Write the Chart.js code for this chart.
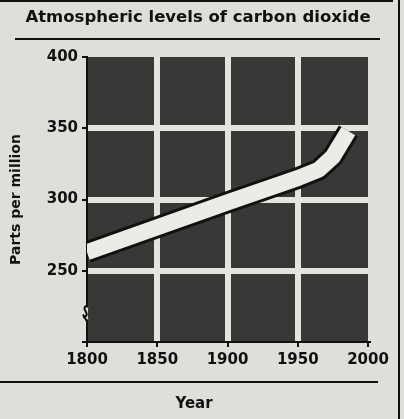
<!DOCTYPE html>
<html>
<head>
<meta charset="utf-8">
<script src="https://cdn.jsdelivr.net/npm/chart.js@4/dist/chart.umd.min.js"></script>
<style>
  html, body { margin: 0; padding: 0; background: #dfdeda; }
  #wrap { width: 404px; height: 419px; position: relative; }
</style>
</head>
<body>
<div id="wrap"><canvas id="c" width="404" height="419"></canvas></div>
<script>
// ---- data ----
const chartTitle = 'Atmospheric levels of carbon dioxide';
const xTitle = 'Year';
const yTitle = 'Parts per million';
const years = [1800, 1900, 1950, 1965, 1975, 1986];
const ppm   = [263, 298, 315, 321, 330, 348];
const xTicks = [1800, 1850, 1900, 1950, 2000];
const yTicks = [250, 300, 350, 400];
const xMin = 1800, xMax = 2000, yMin = 200, yMax = 400;
const breakValue = 220;

const PAPER = '#dfdeda';
const PLOT = '#383837';
const GRID = '#e4e3de';
const INK = '#111111';
const FONT = '"DejaVu Sans", sans-serif';

const points = years.map((y, i) => ({ x: y, y: ppm[i] }));

const decor = {
  id: 'decor',
  beforeDraw(chart) {
    const { ctx, chartArea: a } = chart;
    ctx.save();
    ctx.fillStyle = PAPER;
    ctx.fillRect(0, 0, chart.width, chart.height);
    ctx.fillStyle = PLOT;
    ctx.fillRect(a.left, a.top, a.right - a.left, a.bottom - a.top);
    ctx.restore();
  },
  afterDraw(chart) {
    const { ctx, chartArea: a } = chart;
    ctx.save();
    ctx.strokeStyle = INK;
    ctx.lineWidth = 2;
    const line = (x1, y1, x2, y2) => { ctx.beginPath(); ctx.moveTo(x1, y1); ctx.lineTo(x2, y2); ctx.stroke(); };
    line(0, 1, 393, 1);
    line(15, 39, 380, 39);
    line(0, 382, 378, 382);
    line(399, 0, 399, 419);
    ctx.fillStyle = INK;
    ctx.textAlign = 'center';
    ctx.textBaseline = 'middle';
    // chart title
    ctx.font = 'bold 16.5px ' + FONT;
    ctx.fillText(chartTitle, 198, 18);
    // x-axis title (offset left of the plot centre as in the reference)
    ctx.font = 'bold 15px ' + FONT;
    ctx.fillText(xTitle, 194, 404);
    // axis break squiggle
    const y = chart.scales.y.getPixelForValue(breakValue);
    const x = a.left;
    ctx.fillStyle = PAPER;
    ctx.fillRect(x - 2, y - 6, 4, 12);
    ctx.fillStyle = PLOT;
    ctx.fillRect(x + 1, y - 6, 3, 12);
    ctx.beginPath();
    ctx.moveTo(x, y - 8);
    ctx.bezierCurveTo(x - 8, y - 5, x + 6, y + 1, x - 4, y + 4);
    ctx.moveTo(x - 4, y + 1);
    ctx.lineTo(x, y + 8);
    ctx.lineWidth = 2;
    ctx.stroke();
    ctx.restore();
  }
};

new Chart(document.getElementById('c'), {
  type: 'line',
  data: {
    datasets: [
      { data: points, borderColor: INK, borderWidth: 22, pointRadius: 0, tension: 0,
        borderCapStyle: 'butt', borderJoinStyle: 'round', clip: 0, order: 2 },
      { data: points, borderColor: '#ecebe6', borderWidth: 16, pointRadius: 0, tension: 0,
        borderCapStyle: 'butt', borderJoinStyle: 'round', clip: 0, order: 1 }
    ]
  },
  options: {
    responsive: false,
    animation: false,
    events: [],
    layout: { padding: { left: 4, right: 36, top: 57, bottom: 0 } },
    plugins: {
      legend: { display: false },
      tooltip: { enabled: false },
      title: { display: false }
    },
    scales: {
      x: {
        type: 'linear', min: xMin, max: xMax,
        afterBuildTicks: s => { s.ticks = xTicks.map(v => ({ value: v })); },
        afterFit: s => { s.height = 77; },
        ticks: { color: INK, font: { family: FONT, size: 15, weight: 'bold' }, padding: 4, maxRotation: 0,
          callback: v => String(v) },
        grid: {
          color: c => (c.tick && (c.tick.value === xMin || c.tick.value === xMax)) ? 'rgba(0,0,0,0)' : GRID,
          lineWidth: 6, tickColor: INK, tickWidth: 2, tickLength: 5
        },
        border: { display: true, color: INK, width: 2 },
        title: { display: false }
      },
      y: {
        type: 'linear', min: yMin, max: yMax,
        afterBuildTicks: s => { s.ticks = [yMin].concat(yTicks).map(v => ({ value: v })); },
        afterFit: s => { s.width = 83; },
        ticks: { color: INK, font: { family: FONT, size: 15, weight: 'bold' }, padding: 4,
          callback: v => yTicks.includes(v) ? String(v) : '' },
        grid: {
          color: c => (c.tick && (c.tick.value === yMin || c.tick.value === yMax)) ? 'rgba(0,0,0,0)' : GRID,
          lineWidth: 6, tickColor: INK, tickWidth: 2, tickLength: 5
        },
        border: { display: true, color: INK, width: 2 },
        title: { display: true, text: yTitle, color: INK, font: { family: FONT, size: 14, weight: 'bold' }, padding: { top: 4, bottom: 4 } }
      }
    }
  },
  plugins: [decor]
});
</script>
</body>
</html>
